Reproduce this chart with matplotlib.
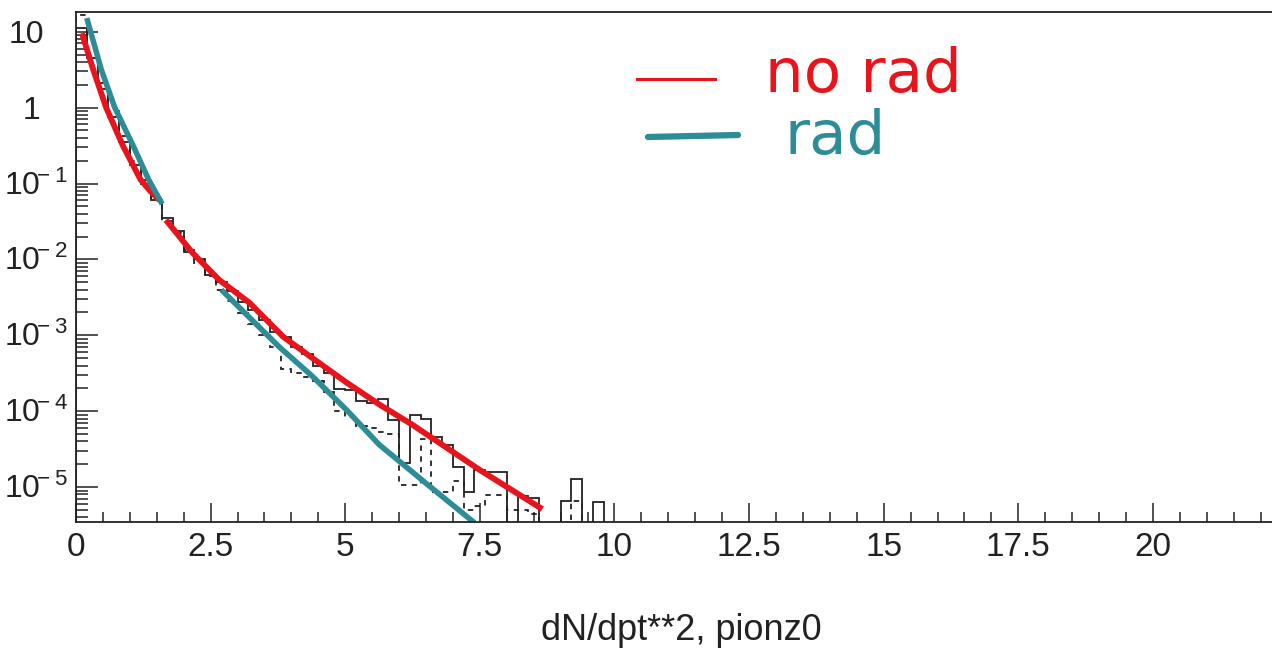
import numpy as np
import matplotlib
matplotlib.use("Agg")
from matplotlib import pyplot as plt
from matplotlib import transforms
from matplotlib.lines import Line2D
from matplotlib.ticker import FixedLocator, LogLocator, NullFormatter

# Binning: 0.2 wide bins starting at 0
bin_width = 0.2

# log10 of bin contents, None = empty bin
norad_hist_log = [1.05, 0.65, 0.25, -0.12, -0.45, -0.75, -1.0, -1.22, -1.45, -1.62,
                  -1.9, -2.0, -2.2, -2.3, -2.42, -2.56, -2.66, -2.8, -2.95, -3.02,
                  -3.15, -3.25, -3.4, -3.5, -3.71, -3.72, -3.87, -3.89, -3.84, -4.11,
                  -4.68, -4.05, -4.1, -4.34, -4.44, -4.73, -5.07, -4.78, -4.8, -4.8,
                  None, -5.12, -5.15, None, None, -5.18, -4.89, None, -5.2]

rad_hist_log = [1.22, 0.72, 0.32, -0.05, -0.38, -0.7, -0.95, -1.2, -1.5, -1.65,
                -1.88, -2.05, -2.22, -2.4, -2.55, -2.7, -2.85, -3.0, -3.15, -3.45,
                -3.5, -3.55, -3.6, -3.75, -4.0, -4.07, -4.2, -4.22, -4.27, -4.3,
                -4.97, -4.97, -4.37, -5.06, -5.06, -4.92, -5.3, -5.25, -5.1, -5.1,
                -5.3, -5.3, -5.35, None, None, None, -5.18, None, None]

# fitted curves, (pt**2, log10 dN/dpt**2), fitted in two ranges each
norad_fit_lo_x = [0.11, 0.32, 0.56, 0.87, 1.2, 1.38, 1.55]
norad_fit_lo_y = [0.98, 0.50, 0.00, -0.50, -0.95, -1.10, -1.22]
norad_fit_hi_x = [1.67, 2.16, 2.66, 3.22, 3.85, 4.39, 5.02, 5.63, 6.25, 7.49, 8.66]
norad_fit_hi_y = [-1.48, -1.91, -2.27, -2.57, -3.02, -3.30, -3.62, -3.91, -4.18, -4.77, -5.29]

rad_fit_lo_x = [0.20, 0.47, 0.72, 1.06, 1.35, 1.60]
rad_fit_lo_y = [1.18, 0.50, 0.00, -0.50, -0.95, -1.27]
rad_fit_hi_x = [2.70, 3.77, 4.39, 5.02, 5.63, 6.50, 7.40]
rad_fit_hi_y = [-2.40, -3.15, -3.54, -3.98, -4.44, -4.95, -5.47]

x_ticks = [0, 2.5, 5, 7.5, 10, 12.5, 15, 17.5, 20]
x_tick_labels = ["0", "2.5", "5", "7.5", "10", "12.5", "15", "17.5", "20"]
y_decades = [1, 0, -1, -2, -3, -4, -5]

RED = "#e8131b"
TEAL = "#2c8d97"
INK = "#222222"

plt.rcParams["font.family"] = ["Liberation Sans", "DejaVu Sans"]

W, H = 1272, 649
fig = plt.figure(figsize=(W/100, H/100), dpi=100)
ax = fig.add_axes([76/W, 1-522/H, 1-76/W, (522-12)/H])
ax.set_yscale("log")


def to_counts(vals):
    return np.array([10.0**v if v is not None else 1e-12 for v in vals])


ax.stairs(to_counts(norad_hist_log), np.arange(len(norad_hist_log) + 1) * bin_width,
          baseline=1e-12, color=INK, lw=1.3)
ax.stairs(to_counts(rad_hist_log), np.arange(len(rad_hist_log) + 1) * bin_width,
          baseline=1e-12, color=INK, lw=1.3, linestyle=(0, (3, 3)))

for xs, ys in [(norad_fit_lo_x, norad_fit_lo_y), (norad_fit_hi_x, norad_fit_hi_y)]:
    ax.plot(xs, 10.0**np.array(ys), color=RED, lw=4.2, solid_capstyle="butt")
for xs, ys in [(rad_fit_lo_x, rad_fit_lo_y), (rad_fit_hi_x, rad_fit_hi_y)]:
    ax.plot(xs, 10.0**np.array(ys), color=TEAL, lw=4.0, solid_capstyle="butt")

ax.set_xlim(0, (W - 77) / 53.8)
ax.set_ylim(10**-5.46, 10**1.26)

# frame: left, bottom and top only
ax.spines["right"].set_visible(False)
for s in ["left", "bottom", "top"]:
    ax.spines[s].set_linewidth(1.3)
    ax.spines[s].set_color(INK)

ax.xaxis.set_major_locator(FixedLocator(x_ticks))
ax.xaxis.set_minor_locator(FixedLocator(np.arange(0, 22.5, 0.5)))
ax.set_xticklabels(x_tick_labels)
ax.yaxis.set_major_locator(LogLocator(base=10, numticks=20))
ax.yaxis.set_minor_locator(LogLocator(base=10, subs=np.arange(2, 10), numticks=20))
ax.yaxis.set_major_formatter(NullFormatter())
ax.yaxis.set_minor_formatter(NullFormatter())

ax.tick_params(axis="x", which="major", direction="in", length=14, width=1.1,
               labelsize=24, pad=7, colors=INK)
ax.tick_params(axis="x", which="minor", direction="in", length=7, width=1.1, colors=INK)
ax.tick_params(axis="y", which="major", direction="in", length=16, width=1.1, colors=INK)
ax.tick_params(axis="y", which="minor", direction="in", length=8.5, width=1.1, colors=INK)
ax.tick_params(top=False, right=False, which="both")

# y labels: base "10" with the digits centred on the tick, exponent raised
ylab_tr = transforms.blended_transform_factory(fig.transFigure, ax.transData)
base_tr = transforms.offset_copy(ylab_tr, fig=fig, y=-11, units="dots")
for e in y_decades:
    v = 10.0**e
    if e == 1:
        s, xr = "10", 44
    elif e == 0:
        s, xr = "1", 40
    else:
        s, xr = r"$\mathregular{10^{\!\!%d}}$" % e, 68
    ax.text(xr/W, v, s, transform=base_tr, ha="right", va="baseline",
            fontsize=23, color=INK, clip_on=False)

fig.text(681/W, 1-630/H, "dN/dpt**2, pionz0", ha="center", va="center",
         fontsize=26, color=INK)

# hand-drawn legend
fig.add_artist(Line2D([637/W, 715/W], [1-79/H, 1-79/H], color=RED, lw=2.2))
fig.add_artist(Line2D([648/W, 738/W], [1-137/H, 1-135/H], color=TEAL, lw=4.5,
                      solid_capstyle="round"))
fig.text(765/W, 1-92/H, "no rad", ha="left", va="baseline", fontsize=44, color=RED,
         family=["DejaVu Sans"])
fig.text(785/W, 1-154/H, "rad", ha="left", va="baseline", fontsize=44, color=TEAL,
         family=["DejaVu Sans"])

fig.savefig("out.png", dpi=100, facecolor="white")
